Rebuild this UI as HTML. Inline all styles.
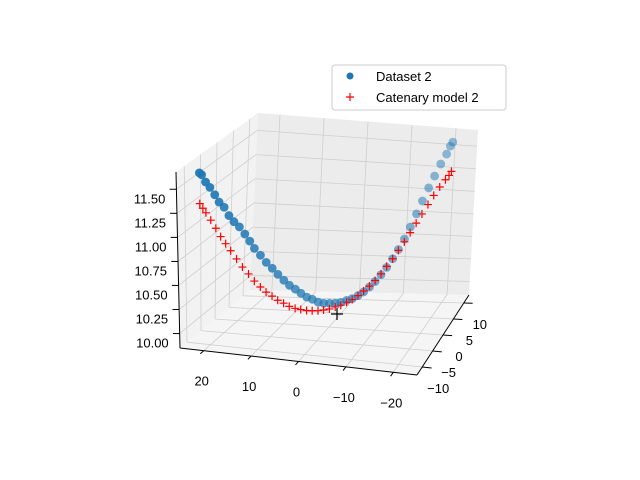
<!DOCTYPE html>
<html><head><meta charset="utf-8"><style>
body{margin:0;background:#fff}
svg{display:block;font-family:"Liberation Sans","DejaVu Sans",sans-serif}
</style></head><body>
<svg id="chart" width="640" height="480" viewBox="0 0 640 480">
<g id="panes"></g>
<g id="grid"></g>
<g id="axes"></g>
<g id="marks"></g>
<g id="legend">
<rect x="332" y="65" width="174" height="45" rx="3" fill="#fff" fill-opacity="0.8" stroke="#ccc" stroke-width="1"/>
<g>
<circle cx="350" cy="76" r="3.5" fill="#1f77b4"/>
<text x="376" y="81" font-size="13" fill="#000">Dataset 2</text></g>
<g>
<path d="M346 97H354M350 93V101" stroke="red" stroke-width="1.2"/>
<text x="376" y="102" font-size="13" fill="#000">Catenary model 2</text></g>
</g>
</svg>
<script>
const xTicks=[-20,-10,0,10,20];
const yTicks=[-10,-5,0,5,10];
const zTicks=[10.00,10.25,10.50,10.75,11.00,11.25,11.50];
const xLim=[-25,25], yLim=[-12.5,12.5], zLim=[9.85,11.68];
// Dataset 2 (scatter)
const dataX=[22,21.6,21,20.3,19.5,18.8,18,17.2,16.4,15.5,14.6,13.8,13,12,11,10,9,8,7,6,5,4,3,2,1,0,-1,-2,-3,-4,-5,-6,-7,-8,-9,-10,-11,-12,-13,-14,-15,-16,-17,-18,-19,-20,-20.6,-21];
const dataY=[-9.8,-9.7,-9.4,-9.1,-8.8,-8.5,-8.1,-7.8,-7.4,-7,-6.6,-6.2,-5.9,-5.4,-5,-4.5,-4.1,-3.6,-3.2,-2.7,-2.3,-1.8,-1.4,-0.9,-0.5,0,0.5,0.9,1.4,1.8,2.3,2.7,3.2,3.6,4.1,4.5,5,5.4,5.9,6.3,6.8,7.2,7.7,8.1,8.6,9,9.3,9.5];
const dataZ=[11.62,11.6,11.52,11.46,11.38,11.3,11.24,11.15,11.08,11.02,10.94,10.86,10.78,10.7,10.62,10.55,10.48,10.41,10.35,10.3,10.25,10.2,10.17,10.13,10.11,10.1,10.09,10.09,10.1,10.11,10.13,10.16,10.2,10.25,10.31,10.38,10.46,10.55,10.65,10.77,10.9,11.03,11.16,11.28,11.4,11.5,11.58,11.62];
// Catenary model 2
const modelX=[22,21.5,21,20.2,19.4,18.6,17.8,17,16,15,14,13,12,11,10,9,8,7,6,5,4,3,2,1,0,-1,-2,-3,-4,-5,-6,-7,-8,-9,-10,-11,-12,-13,-14,-15,-16,-17,-18,-19,-20,-20.6,-21];
const modelY=[-9.8,-9.6,-9.4,-9.1,-8.7,-8.4,-8,-7.6,-7.2,-6.8,-6.3,-5.9,-5.4,-5,-4.5,-4.1,-3.6,-3.2,-2.7,-2.3,-1.8,-1.4,-0.9,-0.5,0,0.5,0.9,1.4,1.8,2.3,2.7,3.2,3.6,4.1,4.5,5,5.4,5.9,6.3,6.8,7.2,7.7,8.1,8.6,9,9.3,9.5];
const modelZ=[11.3,11.25,11.2,11.12,11.03,10.94,10.86,10.78,10.69,10.6,10.52,10.44,10.37,10.31,10.26,10.21,10.17,10.13,10.1,10.08,10.06,10.05,10.04,10.04,10.04,10.05,10.06,10.08,10.1,10.13,10.17,10.21,10.26,10.32,10.39,10.46,10.54,10.62,10.71,10.8,10.89,10.98,11.07,11.15,11.22,11.26,11.3];
const NS='http://www.w3.org/2000/svg';
const C={'000':[417,375],'100':[180,348],'010':[469,295],'110':[250,290],
'001':[419,197],'101':[176,172],'011':[478,130],'111':[258,113]};
function lerp(a,b,t){return [a[0]+(b[0]-a[0])*t,a[1]+(b[1]-a[1])*t];}
function projN(u,v,w){
 const a=lerp(C['000'],C['100'],u),b=lerp(C['010'],C['110'],u);
 const c=lerp(C['001'],C['101'],u),d=lerp(C['011'],C['111'],u);
 return lerp(lerp(a,b,v),lerp(c,d,v),w);}
function nx(x){return (x-xLim[0])/(xLim[1]-xLim[0]);}
function ny(y){return (y-yLim[0])/(yLim[1]-yLim[0]);}
function nz(z){return (z-zLim[0])/(zLim[1]-zLim[0]);}
function proj(x,y,z){return projN(nx(x),ny(y),nz(z));}
function mk(tag,attrs,parent){const e=document.createElementNS(NS,tag);for(const k in attrs)e.setAttribute(k,attrs[k]);parent.appendChild(e);return e;}
function poly(pts){return pts.map(p=>p.join(',')).join(' ');}
const panes=document.getElementById('panes'),grid=document.getElementById('grid'),axes=document.getElementById('axes'),marks=document.getElementById('marks');
let e;
e=mk('polygon',{points:poly([C['100'],C['110'],C['111'],C['101']]),fill:'#f2f2f2'},panes);


e=mk('polygon',{points:poly([C['010'],C['110'],C['111'],C['011']]),fill:'#ececec'},panes);


e=mk('polygon',{points:poly([C['000'],C['100'],C['110'],C['010']]),fill:'#f5f5f5'},panes);


const gs={stroke:'#cfcfcf','stroke-width':0.8,fill:'none'};
function gl(p,q,name){const l=mk('line',Object.assign({x1:p[0],y1:p[1],x2:q[0],y2:q[1]},gs),grid);

}
xTicks.forEach(t=>{const u=nx(t);gl(projN(u,0,0),projN(u,1,0),'x-grid-floor');gl(projN(u,1,0),projN(u,1,1),'x-grid-back');});
yTicks.forEach(t=>{const v=ny(t);gl(projN(0,v,0),projN(1,v,0),'y-grid-floor');gl(projN(1,v,0),projN(1,v,1),'y-grid-left');});
zTicks.forEach(t=>{const w=nz(t);gl(projN(1,0,w),projN(1,1,w),'z-grid-left');gl(projN(1,1,w),projN(0,1,w),'z-grid-back');});
function al(p,q,name){const l=mk('line',{x1:p[0],y1:p[1],x2:q[0],y2:q[1],stroke:'#000','stroke-width':1},axes);

}
al(C['000'],C['100'],'x-axis-line');al(C['000'],C['010'],'y-axis-line');al(C['100'],C['101'],'z-axis-line');
function txt(x,y,s,anchor,name){const t=mk('text',{x:x,y:y,'font-size':13,'text-anchor':anchor,fill:'#000'},axes);t.textContent=s;

}
xTicks.forEach(t=>{const p=projN(nx(t),0,0),q=projN(nx(t),-0.05,0);al(p,q,'x-tick');
 txt(p[0]-2,p[1]+35,t<0?'\u2212'+(-t):String(t),'middle','x-tick-label');});
yTicks.forEach(t=>{const p=projN(0,ny(t),0),q=projN(-0.04,ny(t),0);al(p,q,'y-tick');
 txt(p[0]+16,p[1]+26,t<0?'\u2212'+(-t):String(t),'middle','y-tick-label');});
zTicks.forEach(t=>{const p=projN(1,0,nz(t)),q=projN(1.025,-0.01,nz(t));al(p,q,'z-tick');
 txt(p[0]-11,p[1]+14,t.toFixed(2),'end','z-tick-label');});
// marks
const items=[];
dataX.forEach((x,i)=>items.push({k:'d',x:x,y:dataY[i],z:dataZ[i]}));
modelX.forEach((x,i)=>items.push({k:'m',x:x,y:modelY[i],z:modelZ[i]}));
items.forEach(it=>{it.depth=ny(it.y)+(1-nx(it.x))*0.2;});
items.sort((a,b)=>b.depth-a.depth);
items.forEach(it=>{const p=proj(it.x,it.y,it.z);
 if(it.k==='d'){const c=mk('circle',{cx:p[0],cy:p[1],r:4.4,fill:'#1f77b4','fill-opacity':(1-0.6*ny(it.y)).toFixed(2)},marks);
  
  }
 else{const m=mk('path',{d:`M${p[0]-4} ${p[1]}H${p[0]+4}M${p[0]} ${p[1]-4}V${p[1]+4}`,stroke:'red','stroke-width':1.2},marks);
  
  }});
const lp=[337,314];
const lm=mk('path',{d:`M${lp[0]-6} ${lp[1]}H${lp[0]+6}M${lp[0]} ${lp[1]-6}V${lp[1]+6}`,stroke:'#000','stroke-width':1.2},marks);


</script>
</body></html>
